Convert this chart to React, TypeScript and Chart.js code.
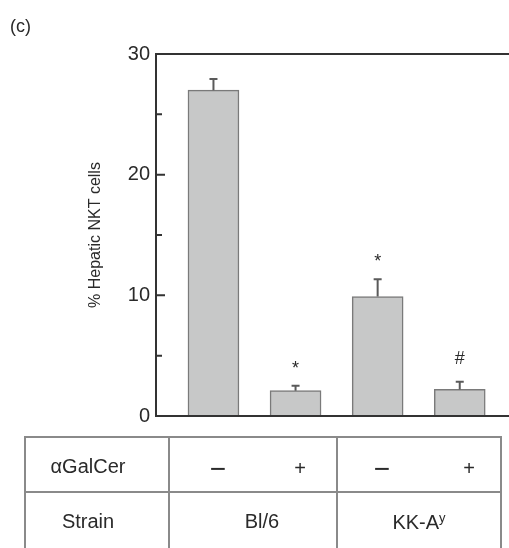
import React, { useEffect, useRef } from 'react';
import { Chart, registerables } from 'chart.js';

Chart.register(...registerables);

// ---- data ----
const galcer = ['−', '+', '−', '+'];
const strains = ['Bl/6', 'KK-A'];
const strainSup = ['', 'y'];
const means = [27.0, 2.1, 9.9, 2.2];
const errors = [0.92, 0.4, 1.44, 0.63];
const marks = ['', '*', '*', '#'];
const majorTicks = [0, 10, 20, 30];
const minorTicks = [5, 15, 25];
const yLabel = '% Hepatic NKT cells';
const panelLabel = '(c)';

const FONT = "'Liberation Sans', Arial, Helvetica, sans-serif";
const TEXT = '#2a2a2a';
const AXIS = '#333333';

const overlay = {
  id: 'overlay',
  afterDatasetsDraw(chart: any) {
    const { ctx, chartArea: a, scales } = chart;
    const x = scales.x;
    const y = scales.y;
    ctx.save();
    // frame lines (top and bottom)
    ctx.strokeStyle = AXIS;
    ctx.lineWidth = 2;
    ctx.beginPath();
    ctx.moveTo(a.left, a.top);
    ctx.lineTo(a.right, a.top);
    ctx.moveTo(a.left, a.bottom);
    ctx.lineTo(a.right, a.bottom);
    ctx.stroke();
    // inward ticks
    ctx.beginPath();
    majorTicks.forEach((v) => {
      const py = y.getPixelForValue(v);
      ctx.moveTo(a.left, py);
      ctx.lineTo(a.left + 9, py);
    });
    minorTicks.forEach((v) => {
      const py = y.getPixelForValue(v);
      ctx.moveTo(a.left, py);
      ctx.lineTo(a.left + 6, py);
    });
    ctx.stroke();
    // error bars + significance marks
    ctx.strokeStyle = '#5a5a5a';
    ctx.lineWidth = 2;
    ctx.fillStyle = TEXT;
    ctx.font = `18px ${FONT}`;
    ctx.textAlign = 'center';
    ctx.textBaseline = 'alphabetic';
    means.forEach((m, i) => {
      const px = x.getPixelForValue(i + 1);
      const base = y.getPixelForValue(m);
      const top = y.getPixelForValue(m + errors[i]);
      ctx.beginPath();
      ctx.moveTo(px, base);
      ctx.lineTo(px, top);
      ctx.moveTo(px - 4, top);
      ctx.lineTo(px + 4, top);
      ctx.stroke();
      if (marks[i]) {
        const mt = ctx.measureText(marks[i]);
        ctx.fillText(marks[i], px, top - 18 - mt.actualBoundingBoxDescent);
      }
    });
    ctx.restore();
  },
};

const W = 509;
const H = 548;

// table layout
const tLeft = 25, tRight = 501, tTop = 437, tMid = 492, tBottom = 552;
const tCols = [169, 337];
const rowBase = [473, 528];
const col0X = 88;
const signX = [218, 300, 382, 469];
const strainX = [262, 419];

function textTop(baseline: number, size: number) {
  return baseline - size * 0.8465;
}

export default function App() {
  const ref = useRef<HTMLCanvasElement | null>(null);

  useEffect(() => {
    if (!ref.current) return;
    const chart = new Chart(ref.current, {
      type: 'bar',
      data: {
        datasets: [
          {
            data: means.map((m, i) => ({ x: i + 1, y: m })),
            backgroundColor: '#c7c8c8',
            borderColor: '#7a7a7a',
            borderWidth: 1.5,
            barThickness: 51,
          },
        ],
      },
      options: {
        responsive: false,
        animation: false,
        devicePixelRatio: 1,
        layout: { padding: { top: 54, bottom: 132, left: 0, right: 0 } },
        plugins: { legend: { display: false }, tooltip: { enabled: false } },
        scales: {
          x: { type: 'linear', min: 0.3, max: 4.6, offset: false, display: false },
          y: {
            min: 0,
            max: 30,
            afterFit(s: any) {
              s.width = 156;
            },
            ticks: {
              stepSize: 10,
              padding: 6,
              color: TEXT,
              font: { family: FONT, size: 20 },
            },
            grid: { display: false, drawTicks: false },
            border: { display: true, color: AXIS, width: 2 },
            title: {
              display: true,
              text: yLabel,
              color: TEXT,
              font: { family: FONT, size: 16 },
              padding: { top: 86, bottom: 0 },
            },
          },
        },
      } as any,
      plugins: [overlay],
    });
    return () => chart.destroy();
  }, []);

  const line = (l: number, t: number, w: number, h: number, k: string) => (
    <div key={k} style={{ position: 'absolute', left: l, top: t, width: w, height: h, background: '#8a8a8a' }} />
  );

  const txt = (s: React.ReactNode, cx: number, baseline: number, size: number, k: string) => (
    <div
      key={k}
      style={{
        position: 'absolute',
        left: cx,
        top: textTop(baseline, size),
        transform: 'translateX(-50%)',
        fontFamily: FONT,
        fontSize: size,
        lineHeight: `${size}px`,
        color: TEXT,
        whiteSpace: 'nowrap',
      }}
    >
      {s}
    </div>
  );

  return (
    <div style={{ position: 'fixed', left: 0, top: 0, width: W, height: H, overflow: 'hidden', background: '#fff' }}>
      <canvas ref={ref} width={W} height={H} style={{ position: 'absolute', left: 0, top: 0, display: 'block' }} />
      <div
        style={{
          position: 'absolute',
          left: 10,
          top: textTop(32, 18),
          fontFamily: FONT,
          fontSize: 18,
          lineHeight: '18px',
          color: TEXT,
        }}
      >
        {panelLabel}
      </div>
      {/* table lines */}
      {line(tLeft - 1, tTop - 1, tRight - tLeft + 2, 2, 'h0')}
      {line(tLeft - 1, tMid - 1, tRight - tLeft + 2, 2, 'h1')}
      {line(tLeft - 1, tTop - 1, 2, tBottom - tTop, 'v0')}
      {line(tCols[0] - 1, tTop - 1, 2, tBottom - tTop, 'v1')}
      {line(tCols[1] - 1, tTop - 1, 2, tBottom - tTop, 'v2')}
      {line(tRight - 1, tTop - 1, 2, tBottom - tTop, 'v3')}
      {/* table text */}
      {txt('αGalCer', col0X, rowBase[0], 20, 'r0')}
      {txt('Strain', col0X, rowBase[1], 20, 'r1')}
      {galcer.map((g, i) =>
        g === '−'
          ? txt(g, signX[i], rowBase[0] + 6, 28, 'g' + i)
          : txt(g, signX[i], rowBase[0] + 2, 20, 'g' + i)
      )}
      {strains.map((s, i) =>
        txt(
          <span>
            {s}
            {strainSup[i] ? (
              <span style={{ fontSize: 13, position: 'relative', top: -7 }}>{strainSup[i]}</span>
            ) : null}
          </span>,
          strainX[i],
          rowBase[1] + (i === 1 ? 1 : 0),
          20,
          's' + i
        )
      )}
    </div>
  );
}
